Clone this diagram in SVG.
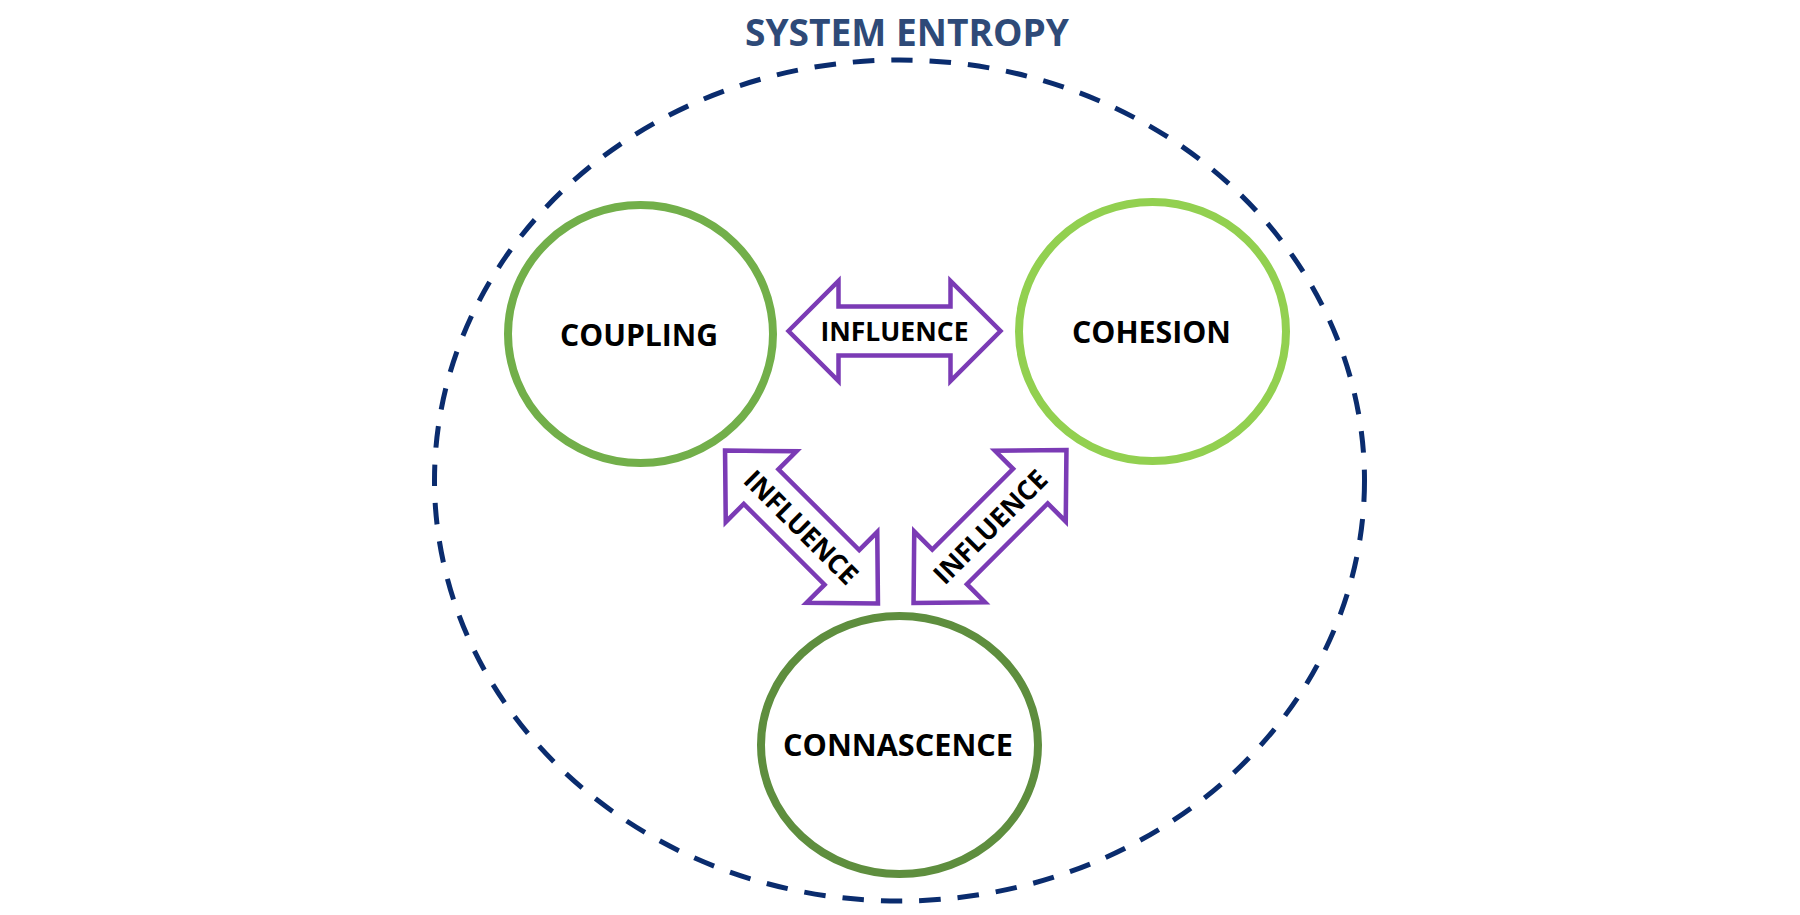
<svg xmlns="http://www.w3.org/2000/svg" width="1800" height="915" viewBox="0 0 1800 915">
  <defs>
    <style>
      .node { fill: #ffffff; stroke-width: 8; }
      .label { font-family: "Open Sans", Lato, "Liberation Sans", sans-serif; font-weight: 700; fill: #000000; text-anchor: middle; }
      .arrow { fill: #ffffff; stroke: #7B3BB5; stroke-width: 4.5; stroke-linejoin: miter; stroke-miterlimit: 10; }
      .alabel { font-family: "Open Sans", Lato, "Liberation Sans", sans-serif; font-weight: 700; font-size: 27px; fill: #000000; text-anchor: middle; }
    </style>
    <polygon id="dblarrow" points="-106,0 -56,-50 -56,-24.5 56,-24.5 56,-50 106,0 56,50 56,24.5 -56,24.5 -56,50"/>
  </defs>
  <rect width="1800" height="915" fill="#ffffff"/>

  <g id="system-entropy">
    <ellipse cx="899.5" cy="480.5" rx="465" ry="420.5" fill="none" stroke="#0A2C6E" stroke-width="5" stroke-dasharray="21.5 17"/>
    <text x="907" y="46" font-family="'Open Sans', Lato, 'Liberation Sans', sans-serif" font-weight="700" font-size="38" fill="#2E4A78" text-anchor="middle" textLength="324" lengthAdjust="spacingAndGlyphs">SYSTEM ENTROPY</text>
  </g>

  <g id="connectors">
    <g id="arrow-coupling-cohesion" transform="translate(894.5,331)">
      <use href="#dblarrow" class="arrow"/>
      <text x="0" y="10" class="alabel" textLength="148" lengthAdjust="spacingAndGlyphs">INFLUENCE</text>
    </g>
    <g id="arrow-coupling-connascence" transform="translate(801.5,527) rotate(45)">
      <use href="#dblarrow" class="arrow" transform="scale(1.02,1)"/>
      <text x="0" y="10" class="alabel" textLength="148" lengthAdjust="spacingAndGlyphs">INFLUENCE</text>
    </g>
    <g id="arrow-cohesion-connascence" transform="translate(990,526.5) rotate(-45)">
      <use href="#dblarrow" class="arrow" transform="scale(1.02,1)"/>
      <text x="0" y="10" class="alabel" textLength="148" lengthAdjust="spacingAndGlyphs">INFLUENCE</text>
    </g>
  </g>

  <g id="coupling">
    <ellipse class="node" cx="640.5" cy="334" rx="132.5" ry="129" stroke="#72AF4A"/>
    <text class="label" x="639" y="346" font-size="31" textLength="158" lengthAdjust="spacingAndGlyphs">COUPLING</text>
  </g>

  <g id="cohesion">
    <ellipse class="node" cx="1152.5" cy="331.5" rx="133.5" ry="129.5" stroke="#92D050"/>
    <text class="label" x="1151.5" y="343" font-size="31" textLength="159" lengthAdjust="spacingAndGlyphs">COHESION</text>
  </g>

  <g id="connascence">
    <ellipse class="node" cx="899.5" cy="745" rx="138.5" ry="129" stroke="#5E8E3E"/>
    <text class="label" x="898" y="756" font-size="31" textLength="230" lengthAdjust="spacingAndGlyphs">CONNASCENCE</text>
  </g>
</svg>
